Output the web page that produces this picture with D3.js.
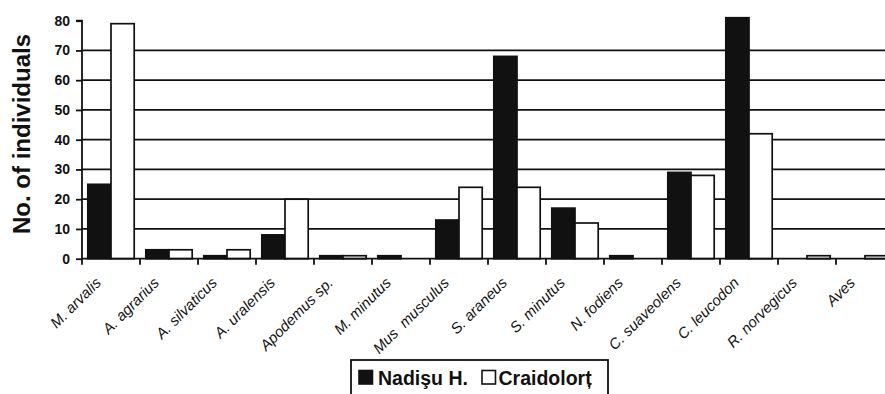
<!DOCTYPE html>
<html>
<head>
<meta charset="utf-8">
<script src="https://cdn.jsdelivr.net/npm/d3@7"></script>
<style>
  html, body { margin: 0; padding: 0; background: #fff; }
  svg { display: block; }
  text { font-family: "Liberation Sans", Arial, sans-serif; fill: #111; }
</style>
</head>
<body>
<svg id="chart" width="885" height="394"></svg>
<script>
const categories = ["M. arvalis", "A. agrarius", "A. silvaticus", "A. uralensis", "Apodemus sp.", "M. minutus", "Mus  musculus", "S. araneus", "S. minutus", "N. fodiens", "C. suaveolens", "C. leucodon", "R. norvegicus", "Aves"];
const nadisu = [25, 3, 1, 8, 1, 1, 13, 68, 17, 1, 29, 81, 0, 0];
const craidolort = [79, 3, 3, 20, 1, 0, 24, 24, 12, 0, 28, 42, 1, 1];
const seriesNames = ["Nadişu H.", "Craidolorț"];
const yTicks = [0, 10, 20, 30, 40, 50, 60, 70, 80];
const gridValues = [10, 20, 30, 40, 50, 60, 70];

(function () {
const svg = d3.select("#chart");
const W = 885;
const pLeft = 82, pBottom = 258.7, pTop = 20.7;
const x = d3.scaleBand().domain(categories).range([pLeft, pLeft + 58 * categories.length]).paddingInner(0).paddingOuter(0);
const xs = d3.scaleBand().domain([0, 1]).range([0, x.bandwidth()]).paddingOuter(0.25).paddingInner(0);
const y = d3.scaleLinear().domain([0, 80]).range([pBottom, pTop]);

// gridlines
svg.append("g").selectAll("line").data(gridValues).join("line")
  .attr("x1", pLeft).attr("x2", W + 20)
  .attr("y1", d => y(d)).attr("y2", d => y(d))
  .attr("stroke", "#111").attr("stroke-width", 1.8);

// bars
const data = categories.map((c, i) => ({ c, v: [nadisu[i], craidolort[i]] }));
const groups = svg.append("g").selectAll("g").data(data).join("g")
  .attr("transform", d => `translate(${x(d.c)},0)`);
groups.selectAll("rect").data(d => d.v.map((v, k) => ({ v, k })).filter(e => e.v > 0)).join("rect")
  .attr("x", d => xs(d.k))
  .attr("width", xs.bandwidth())
  .attr("y", d => y(d.v))
  .attr("height", d => y(0) - y(d.v))
  .attr("fill", d => d.k === 0 ? "#111" : "#fff")
  .attr("stroke", "#111").attr("stroke-width", 1.7);

// y axis
const yAxis = d3.axisLeft(y).tickValues(yTicks).tickSize(6).tickPadding(6);
const gy = svg.append("g").attr("transform", `translate(${pLeft},0)`).call(yAxis);
gy.attr("font-family", null).attr("font-size", null);
gy.select(".domain").attr("stroke", "#111").attr("stroke-width", 1.8).attr("d", `M-6,${pTop}H0V${pBottom}`);
gy.selectAll(".tick line").attr("stroke", "#111").attr("stroke-width", 1.8);
gy.selectAll(".tick text").style("font-size", "14px").style("font-weight", "bold").attr("fill", "#111");

// x axis
const gx = svg.append("g").attr("transform", `translate(0,${pBottom})`);
gx.append("line").attr("x1", pLeft).attr("x2", W + 20).attr("y1", 0).attr("y2", 0)
  .attr("stroke", "#111").attr("stroke-width", 1.8);
gx.selectAll("line.tk").data(categories).join("line").attr("class", "tk")
  .attr("x1", d => x(d)).attr("x2", d => x(d)).attr("y1", 0).attr("y2", 6)
  .attr("stroke", "#111").attr("stroke-width", 1.8);
gx.selectAll("text").data(categories).join("text")
  .attr("transform", d => `translate(${x(d) + x.bandwidth() / 2 - 9},${25}) rotate(-45)`)
  .attr("text-anchor", "end")
  .style("font-size", "15px").style("font-style", "italic").style("white-space", "pre")
  .text(d => d);

// y title
svg.append("text")
  .attr("transform", `translate(30,134) rotate(-90)`)
  .attr("text-anchor", "middle")
  .style("font-size", "24px").style("font-weight", "bold")
  .text("No. of individuals");

// legend
const lg = svg.append("g");
lg.append("rect").attr("x", 351).attr("y", 360).attr("width", 257).attr("height", 60)
  .attr("fill", "#fff").attr("stroke", "#111").attr("stroke-width", 1.8);
const legendItems = [
  { name: seriesNames[0], fill: "#111", sx: 359, tx: 378 },
  { name: seriesNames[1], fill: "#fff", sx: 482, tx: 498.5 }
];
lg.selectAll("rect.sw").data(legendItems).join("rect").attr("class", "sw")
  .attr("x", d => d.sx).attr("y", 370.5).attr("width", 13.5).attr("height", 13.5)
  .attr("fill", d => d.fill).attr("stroke", "#111").attr("stroke-width", 1.6);
lg.selectAll("text").data(legendItems).join("text")
  .attr("x", d => d.tx).attr("y", 384.5)
  .style("font-size", "19.5px").style("font-weight", "bold")
  .text(d => d.name);
})();
</script>
</body>
</html>
